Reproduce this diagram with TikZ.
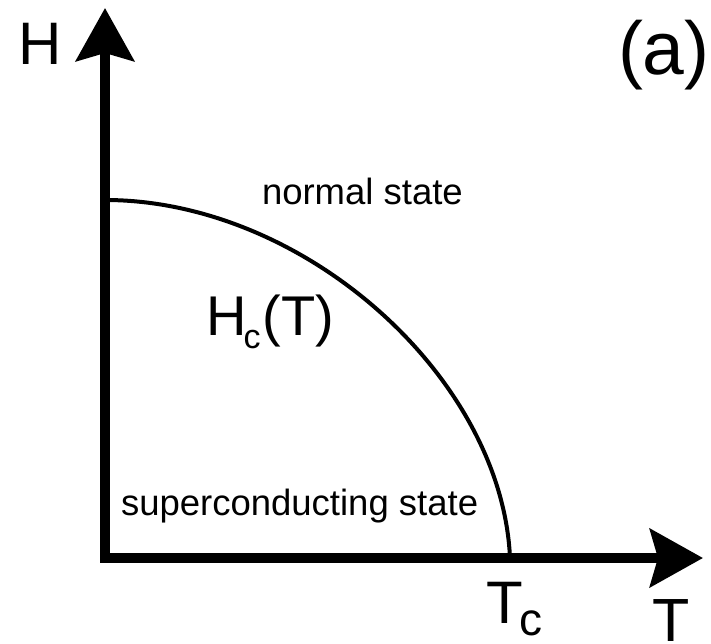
\documentclass[tikz,border=0pt]{standalone}
\usepackage{fontspec}
\setmainfont{Liberation Sans}
\usepackage{tikz}
\usetikzlibrary{arrows.meta}
\newcommand{\fsz}[1]{\fontsize{#1}{#1}\selectfont}

\begin{document}
\begin{tikzpicture}[x=1pt, y=-1pt,
				>={Stealth[length=53pt, width=58pt, inset=8pt]},   %Pfeilspitzen
				axis/.style={line width=9.5pt, line join=miter},
				curve/.style={line width=4pt},
				lbl/.style={anchor=base west, inner sep=0pt, outer sep=0pt}]
				%Bildbereich
				\useasboundingbox (0,0) rectangle (711,644);
				% Punkte
				\coordinate (O) at (105,558);
				\coordinate (Hend) at (105,8);
				\coordinate (Tend) at (703,558);
				\coordinate (Hc0) at (105,200);
				\coordinate (Tc0) at (510,558);
				%Kurve zeichnen
				\draw[curve] (Hc0) .. controls (305,200) and (502,378) .. (Tc0);
				% Achsen zeichnen
				\draw[axis, <->] (Hend) -- (O) -- (Tend);
				% Achsen beschriften
				\node[lbl, font=\fsz{60}] (hlabel) at (18,65) {H};
				\node[lbl, font=\fsz{61}] (tlabel) at (652,641) {T};
				\node[lbl, font=\fsz{60}] (tclabel) at (486,623) {T\kern-3.5pt\raisebox{-12pt}{\fsz{46}c}};
				\node[lbl, font=\fsz{75}] (alabel) at (618,75) {(a)};
				%Beschriftung
				\node[lbl, font=\fsz{36.5}] (normal) at (262,205) {normal state};
				\node[lbl, font=\fsz{36.5}] (super) at (121,515) {superconducting state};
				\node[lbl, font=\fsz{56}] (hct) at (206.7,335) {H\kern-3.5pt\raisebox{-13pt}{\fsz{34}c}\kern2pt(T)};
			\end{tikzpicture}
\end{document}
